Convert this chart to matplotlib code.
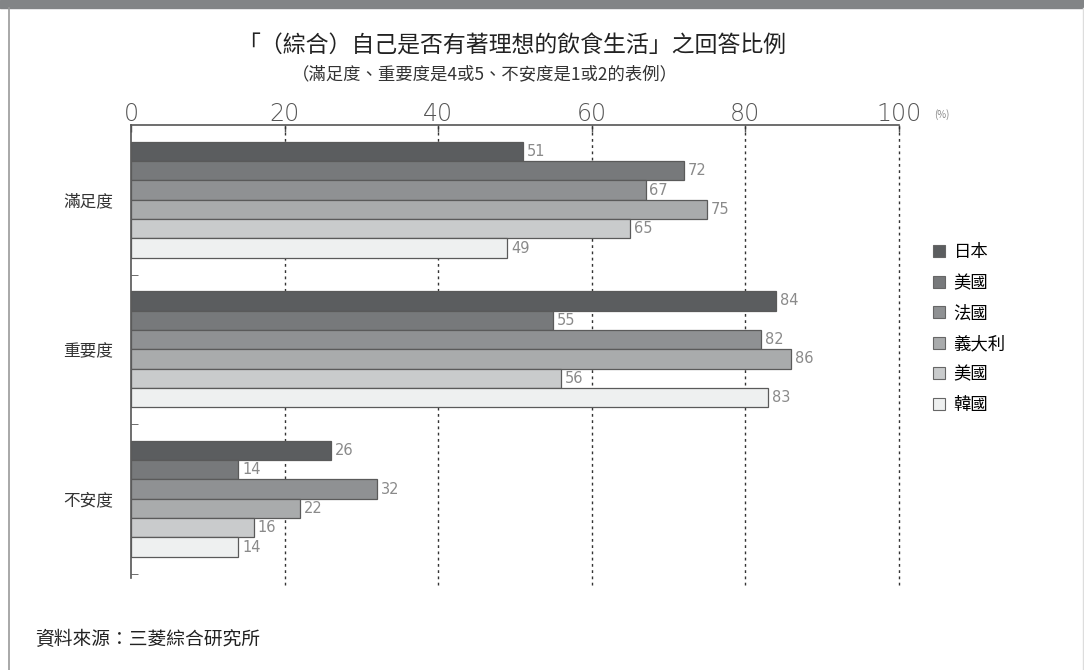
import numpy as np
import matplotlib.pyplot as plt
from matplotlib.patches import Patch, Rectangle
from matplotlib.lines import Line2D

plt.rcParams['font.family'] = ['Noto Sans CJK TC', 'DejaVu Sans']

## data
categories = ['滿足度', '重要度', '不安度']
countries = ['日本', '美國', '法國', '義大利', '美國', '韓國']
japan = [51, 84, 26]
usa = [72, 55, 14]
france = [67, 82, 32]
italy = [75, 86, 22]
usa2 = [65, 56, 16]
korea = [49, 83, 14]
xticks = [0, 20, 40, 60, 80, 100]

series = [japan, usa, france, italy, usa2, korea]
colors = ['#5b5d5f', '#77797b', '#8f9193', '#a9abac', '#c9cbcc', '#eef0f0']

fig = plt.figure(figsize=(10.84, 6.7), dpi=100)

# frame: grey header strip and thin border
fig.patches.append(Rectangle((0, 0.988), 1, 0.012, transform=fig.transFigure,
                             color='#828486', zorder=0))
fig.lines.append(Line2D([0.0085, 0.0085], [0, 0.988], transform=fig.transFigure,
                        color='#9a9a9a', lw=1.2))
fig.lines.append(Line2D([0.999, 0.999], [0, 0.988], transform=fig.transFigure,
                        color='#dddddd', lw=1.0))

ax = fig.add_axes([0.1208, 0.1373, 0.7085, 0.6761])

nb = len(series)
h = 0.775 / nb
ypos = np.arange(len(categories))
for i, vals in enumerate(series):
   yy = ypos - 0.3875 + h * (i + 0.5)
   ax.barh(yy, vals, height=h, color=colors[i], edgecolor='#5a5a5a', linewidth=0.9, zorder=3)
   for y, v in zip(yy, vals):
      ax.text(v + 0.5, y, str(v), va='center', ha='left', fontsize=10.5,
              color='#8a8a8a', family='DejaVu Sans', zorder=4)

ax.set_xlim(0, 100)
ax.set_ylim(2.53, -0.5)

# dotted grid lines
for x in xticks[1:]:
   ax.plot([x, x], [2.58, -0.5], ls=(0, (2, 2.5)), color='#333333', lw=1.0,
           clip_on=False, zorder=2)

for s in ['right', 'bottom']:
   ax.spines[s].set_visible(False)
for s in ['top', 'left']:
   ax.spines[s].set_color('#555555')
   ax.spines[s].set_linewidth(1.2)

ax.xaxis.tick_top()
ax.set_xticks(xticks)
ax.set_xticklabels([str(t) for t in xticks], fontsize=17, color='#555555',
                   family='DejaVu Sans', fontweight='light')
ax.tick_params(axis='x', direction='in', length=5, width=1.0, color='#555555', pad=-1)

ax.set_yticks(ypos)
ax.set_yticklabels(categories, fontsize=12, color='#333333')
ax.tick_params(axis='y', length=0, pad=13)
ax.set_yticks([0.5, 1.5, 2.5], minor=True)
ax.tick_params(axis='y', which='minor', direction='in', length=5, color='#555555')

fig.text(0.862, 0.829, '(%)', fontsize=7, color='#888888', va='center')

fig.text(0.472, 0.931, '「（綜合）自己是否有著理想的飲食生活」之回答比例',
         ha='center', va='center', fontsize=16.5, color='#222222')
fig.text(0.447, 0.889, '（滿足度、重要度是4或5、不安度是1或2的表例）',
         ha='center', va='center', fontsize=12.5, color='#333333')

handles = [Patch(facecolor=c, edgecolor='#666666', linewidth=0.8) for c in colors]
fig.legend(handles, countries, loc='upper left', bbox_to_anchor=(0.846, 0.66),
           frameon=False, fontsize=12.5, handlelength=0.7, handleheight=0.7,
           labelspacing=0.72, handletextpad=0.5)

fig.text(0.032, 0.045, '資料來源：三菱綜合研究所', fontsize=13.5, color='#222222',
         va='center')

plt.savefig('out.png', dpi=100)
